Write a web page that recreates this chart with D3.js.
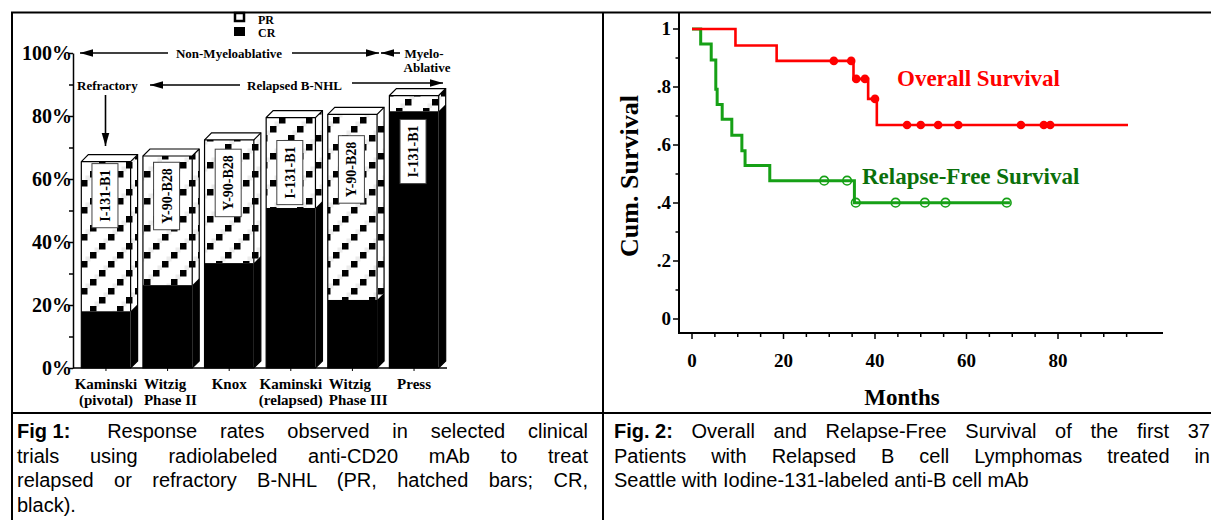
<!DOCTYPE html>
<html>
<head>
<meta charset="utf-8">
<script src="https://cdn.jsdelivr.net/npm/d3@7"></script>
<style>
  body { margin: 0; width: 1211px; height: 520px; overflow: hidden; background: #fff; position: relative; }
  svg { position: absolute; left: 0; top: 0; }
  .serif { font-family: "Liberation Serif", "Times New Roman", serif; font-weight: bold; }
  .cap { position: absolute; font-family: "Liberation Sans", Arial, sans-serif; font-size: 20px; line-height: 24.5px; color: #000; white-space: nowrap; }
  .cap .j { text-align: justify; text-align-last: justify; white-space: normal; }
  .cap .lead { display: inline-block; font-weight: bold; }
</style>
</head>
<body>
<svg id="page" width="1211" height="520"></svg>
<script>
// ---- Fig 1 data: response rates (%) ----
const trials = [["Kaminski", "(pivotal)"], ["Witzig", "Phase II"], ["Knox"], ["Kaminski", "(relapsed)"], ["Witzig", "Phase III"], ["Press"]];
const antibodies = ["I-131-B1", "Y-90-B28", "Y-90-B28", "I-131-B1", "Y-90-B28", "I-131-B1"];
const overallResponse = [65.5, 67.3, 72.4, 79.5, 80.5, 86.5];
const completeResponse = [18, 26.3, 33.3, 50.8, 21.6, 81.5];
const pctTicks = [0, 20, 40, 60, 80, 100];

// ---- Fig 2 data: Kaplan-Meier curves ----
const osTimes = [0, 9.5, 18.5, 35.3, 38.5, 40.4];
const osSurv = [1, 0.943, 0.890, 0.828, 0.759, 0.669];
const osCensored = [31, 34.8, 35.9, 37.8, 40, 47, 50, 53.8, 58.2, 71.9, 76.9, 78.3];
const osEnd = 95.3;
const rfsTimes = [0, 1.9, 4.2, 5.2, 5.5, 6.6, 8.7, 10.9, 11.6, 17.0, 35.5];
const rfsSurv = [1, 0.948, 0.893, 0.792, 0.740, 0.689, 0.634, 0.580, 0.529, 0.477, 0.401];
const rfsCensored = [28.9, 33.9, 35.8, 44.5, 50.9, 55.4, 68.8];
const rfsEnd = 69.5;
const monthTicks = [0, 20, 40, 60, 80];
const survTicks = [0, 0.2, 0.4, 0.6, 0.8, 1];

const svg = d3.select("#page");

// table frame
const frame = svg.append("g").attr("stroke", "#000").attr("stroke-width", 2);
frame.append("line").attr("x1", 11).attr("x2", 1211).attr("y1", 12.5).attr("y2", 12.5);
frame.append("line").attr("x1", 12).attr("x2", 12).attr("y1", 12).attr("y2", 520);
frame.append("line").attr("x1", 603).attr("x2", 603).attr("y1", 12).attr("y2", 520);
frame.append("line").attr("x1", 11).attr("x2", 1211).attr("y1", 413).attr("y2", 413);

// ================= Fig 1 =================
const defs = svg.append("defs");
const T = 27;
const pat = defs.append("pattern").attr("id", "hatch").attr("patternUnits", "userSpaceOnUse")
  .attr("width", T).attr("height", T);
pat.append("rect").attr("width", T).attr("height", T).attr("fill", "#fff");
[[4.5, 13.5], [13.5, 4.5], [22.5, 22.5]].forEach(p => pat.append("rect").attr("x", p[0]).attr("y", p[1]).attr("width", 5).attr("height", 5).attr("fill", "#ececec"));
[[0, 18], [9, 9], [18, 0]].forEach(p => pat.append("rect").attr("x", p[0]).attr("y", p[1]).attr("width", 6.5).attr("height", 6.5).attr("fill", "#000"));

const f1 = svg.append("g").attr("class", "serif");
const x = d3.scaleBand().domain(d3.range(trials.length)).range([73, 447]).paddingInner(0.2).paddingOuter(0.135);
const y = d3.scaleLinear().domain([0, 100]).range([368, 53]);
const D = 7;
const bw = x.bandwidth();
const labelDrop = [34, 40, 43, 55, 55, 56];
const nameAlign = ["middle", "start", "middle", "middle", "start", "middle"];

const bar = f1.selectAll("g.bar").data(trials).join("g").attr("class", "bar");
bar.each(function (d, i) {
  const g = d3.select(this);
  const x0 = x(i), x1 = x0 + bw;
  const yT = y(overallResponse[i]), yC = y(completeResponse[i]), yB = y(0);
  const poly = pts => pts.map(p => p.join(",")).join(" ");
  g.append("rect").attr("x", x0).attr("y", yT).attr("width", bw).attr("height", yC - yT).attr("fill", "url(#hatch)");
  g.append("rect").attr("x", x0).attr("y", yC).attr("width", bw).attr("height", yB - yC).attr("fill", "#000");
  g.append("polygon").attr("points", poly([[x1, yT], [x1 + D, yT - D], [x1 + D, yC - D], [x1, yC]])).attr("fill", "url(#hatch)");
  g.append("polygon").attr("points", poly([[x1, yC], [x1 + D, yC - D], [x1 + D, yB - D], [x1, yB]])).attr("fill", "#000");
  g.append("polygon").attr("points", poly([[x0, yT], [x0 + D, yT - D], [x1 + D, yT - D], [x1, yT]])).attr("fill", "#fff");
  // outlines
  g.append("polygon").attr("points", poly([[x0, yB], [x0, yT], [x0 + D, yT - D], [x1 + D, yT - D], [x1 + D, yB - D], [x1, yB]]))
    .attr("fill", "none").attr("stroke", "#000").attr("stroke-width", 1.2);
  g.append("polyline").attr("points", poly([[x0, yT], [x1, yT], [x1 + D, yT - D]])).attr("fill", "none").attr("stroke", "#000").attr("stroke-width", 1.2);
  g.append("line").attr("x1", x1).attr("x2", x1).attr("y1", yT).attr("y2", yC).attr("stroke", "#000").attr("stroke-width", 1.2);
  // antibody label box
  const cx = x0 + bw / 2 - 1, cy = yT + labelDrop[i];
  const t = g.append("text").attr("transform", `translate(${cx + 5},${cy}) rotate(-90)`)
    .attr("text-anchor", "middle").attr("font-size", 14).text(antibodies[i]);
  const len = t.node().getComputedTextLength();
  g.insert("rect", "text").attr("x", cx - 13).attr("y", cy - len / 2 - 6).attr("width", 26).attr("height", len + 12)
    .attr("fill", "#fff").attr("stroke", "#444").attr("stroke-width", 1);
});

// y axis
const yAxis = f1.append("g").attr("transform", "translate(73,0)")
  .call(d3.axisLeft(y).tickValues(d3.range(0, 101, 10)).tickSize(4).tickSizeOuter(0).tickPadding(-3)
    .tickFormat(v => pctTicks.includes(v) ? v + "%" : ""));
yAxis.attr("font-family", null).attr("font-size", null);
yAxis.selectAll("path, line").attr("stroke", "#000").attr("stroke-width", 1.5);
yAxis.selectAll("text").attr("font-size", 20).attr("fill", "#000");

// x axis
const xAxis = f1.append("g").attr("transform", "translate(0,368)");
xAxis.append("line").attr("x1", 73).attr("x2", 447).attr("stroke", "#000").attr("stroke-width", 1.5);
xAxis.selectAll("line.tk").data(trials).join("line").attr("class", "tk")
  .attr("x1", (d, i) => x(i) + bw / 2).attr("x2", (d, i) => x(i) + bw / 2).attr("y1", 0).attr("y2", 3).attr("stroke", "#000");
xAxis.selectAll("text").data(trials).join("text")
  .attr("text-anchor", (d, i) => nameAlign[i]).attr("font-size", 15)
  .attr("transform", (d, i) => `translate(${nameAlign[i] === "start" ? x(i) + 1 : x(i) + bw / 2},0)`)
  .each(function (d) {
    d3.select(this).selectAll("tspan").data(d).join("tspan").attr("x", 0).attr("y", (s, k) => 21 + k * 15.5).text(s => s);
  });

// legend
f1.append("rect").attr("x", 235).attr("y", 13).attr("width", 9).attr("height", 8).attr("fill", "#fff").attr("stroke", "#000").attr("stroke-width", 2.5);
f1.append("rect").attr("x", 234).attr("y", 27).attr("width", 11).attr("height", 9).attr("fill", "#000");
f1.append("text").attr("x", 258).attr("y", 23.5).attr("font-size", 12).text("PR");
f1.append("text").attr("x", 258).attr("y", 37).attr("font-size", 12).text("CR");

// annotation arrows
function arrow(g, xa, ya, xb, yb) {
  g.append("line").attr("x1", xa).attr("y1", ya).attr("x2", xb).attr("y2", yb).attr("stroke", "#000").attr("stroke-width", 1.6);
  const a = Math.atan2(yb - ya, xb - xa), L = 13, W = 3.8;
  const p = [[xb, yb],
    [xb - L * Math.cos(a) + W * Math.sin(a), yb - L * Math.sin(a) - W * Math.cos(a)],
    [xb - L * Math.cos(a) - W * Math.sin(a), yb - L * Math.sin(a) + W * Math.cos(a)]];
  g.append("polygon").attr("points", p.map(q => q.join(",")).join(" ")).attr("fill", "#000");
}
const ann = f1.append("g");
ann.append("text").attr("x", 229).attr("y", 57.5).attr("text-anchor", "middle").attr("font-size", 13).text("Non-Myeloablative");
arrow(ann, 168, 53, 80, 53);
arrow(ann, 292, 53, 379, 53);
arrow(ann, 400, 53, 381, 53);
ann.append("text").attr("x", 424).attr("y", 57.5).attr("text-anchor", "middle").attr("font-size", 13).text("Myelo-");
ann.append("text").attr("x", 427).attr("y", 71.5).attr("text-anchor", "middle").attr("font-size", 13).text("Ablative");
ann.append("text").attr("x", 77).attr("y", 90).attr("font-size", 13).text("Refractory");
arrow(ann, 240, 85, 150, 85);
ann.append("text").attr("x", 247).attr("y", 90).attr("font-size", 13).text("Relapsed B-NHL");
arrow(ann, 352, 83, 443, 83);
arrow(ann, 105.5, 95, 105.5, 146);

// ================= Fig 2 =================
const f2 = svg.append("g").attr("class", "serif");
const xM = d3.scaleLinear().domain([0, 100]).range([692, 1149.5]);
const yS = d3.scaleLinear().domain([0, 1]).range([319, 29]);

f2.append("line").attr("x1", 679).attr("x2", 679).attr("y1", 13).attr("y2", 334).attr("stroke", "#000").attr("stroke-width", 2);
f2.append("line").attr("x1", 678).attr("x2", 1163).attr("y1", 333).attr("y2", 333).attr("stroke", "#000").attr("stroke-width", 2);

const yMinor = d3.range(0.1, 1, 0.2);
f2.selectAll("line.ymaj").data(survTicks).join("line").attr("class", "ymaj")
  .attr("x1", 673).attr("x2", 679).attr("y1", d => yS(d)).attr("y2", d => yS(d)).attr("stroke", "#000").attr("stroke-width", 1.5);
f2.selectAll("line.ymin").data(yMinor).join("line").attr("class", "ymin")
  .attr("x1", 675.5).attr("x2", 679).attr("y1", d => yS(d)).attr("y2", d => yS(d)).attr("stroke", "#000").attr("stroke-width", 1.5);
f2.selectAll("text.ylab").data(survTicks).join("text").attr("class", "ylab")
  .attr("x", 671).attr("y", d => yS(d)).attr("dy", "0.33em").attr("text-anchor", "end").attr("font-size", 19)
  .text(d => d === 0 ? "0" : d === 1 ? "1" : d3.format(".1f")(d).replace(/^0/, ""));

const xMinor = d3.range(5, 100, 5).filter(v => v % 20 !== 0);
f2.selectAll("line.xmaj").data(monthTicks).join("line").attr("class", "xmaj")
  .attr("x1", d => xM(d)).attr("x2", d => xM(d)).attr("y1", 333).attr("y2", 339).attr("stroke", "#000").attr("stroke-width", 1.5);
f2.selectAll("line.xmin").data(xMinor).join("line").attr("class", "xmin")
  .attr("x1", d => xM(d)).attr("x2", d => xM(d)).attr("y1", 333).attr("y2", 337).attr("stroke", "#000").attr("stroke-width", 1.5);
f2.selectAll("text.xlab").data(monthTicks).join("text").attr("class", "xlab")
  .attr("x", d => xM(d)).attr("y", 367).attr("text-anchor", "middle").attr("font-size", 19).text(d => d);

f2.append("text").attr("x", 902).attr("y", 405).attr("text-anchor", "middle").attr("font-size", 23).text("Months");
f2.append("text").attr("transform", "translate(638,176) rotate(-90)").attr("text-anchor", "middle").attr("font-size", 26).text("Cum. Survival");

const km = d3.line().x(d => xM(d[0])).y(d => yS(d[1])).curve(d3.curveStepAfter);
const stepPts = (t, s, end) => t.map((v, i) => [v, s[i]]).concat([[end, s[s.length - 1]]]);
const survAt = (t, s, v) => s[d3.bisectRight(t, v) - 1];

const osColor = "#ff0000", rfsColor = "#16a016", rfsText = "#0b700b";
f2.append("path").attr("d", km(stepPts(rfsTimes, rfsSurv, rfsEnd))).attr("fill", "none").attr("stroke", rfsColor).attr("stroke-width", 3);
f2.append("path").attr("d", km(stepPts(osTimes, osSurv, osEnd))).attr("fill", "none").attr("stroke", osColor).attr("stroke-width", 2.6);
f2.selectAll("circle.os").data(osCensored).join("circle").attr("class", "os")
  .attr("cx", d => xM(d)).attr("cy", d => yS(survAt(osTimes, osSurv, d))).attr("r", 4.3).attr("fill", osColor);
f2.selectAll("circle.rfs").data(rfsCensored).join("circle").attr("class", "rfs")
  .attr("cx", d => xM(d)).attr("cy", d => yS(survAt(rfsTimes, rfsSurv, d))).attr("r", 4.3)
  .attr("fill", "none").attr("stroke", rfsColor).attr("stroke-width", 1.6);

f2.append("text").attr("x", 897).attr("y", 86).attr("font-size", 23).attr("fill", osColor).text("Overall Survival");
f2.append("text").attr("x", 862).attr("y", 184).attr("font-size", 23).attr("fill", rfsText).text("Relapse-Free Survival");

// ================= captions =================
const cap1 = ["<span class='lead' style='margin-right:14px'>Fig 1:</span> Response rates observed in selected clinical",
  "trials using radiolabeled anti-CD20 mAb to treat",
  "relapsed or refractory B-NHL (PR, hatched bars; CR,",
  "black)."];
const cap2 = ["<span class='lead'>Fig. 2:</span> Overall and Relapse-Free Survival of the first 37",
  "Patients with Relapsed B cell Lymphomas treated in",
  "Seattle with Iodine-131-labeled anti-B cell mAb"];
function caption(lines, left, top, width) {
  const box = d3.select("body").append("div").attr("class", "cap")
    .style("left", left + "px").style("top", top + "px").style("width", width + "px");
  box.selectAll("div").data(lines).join("div")
    .attr("class", (d, i) => i < lines.length - 1 ? "j" : null).html(d => d);
}
caption(cap1, 17, 419, 571);
caption(cap2, 614, 419, 596);
</script>
</body>
</html>
